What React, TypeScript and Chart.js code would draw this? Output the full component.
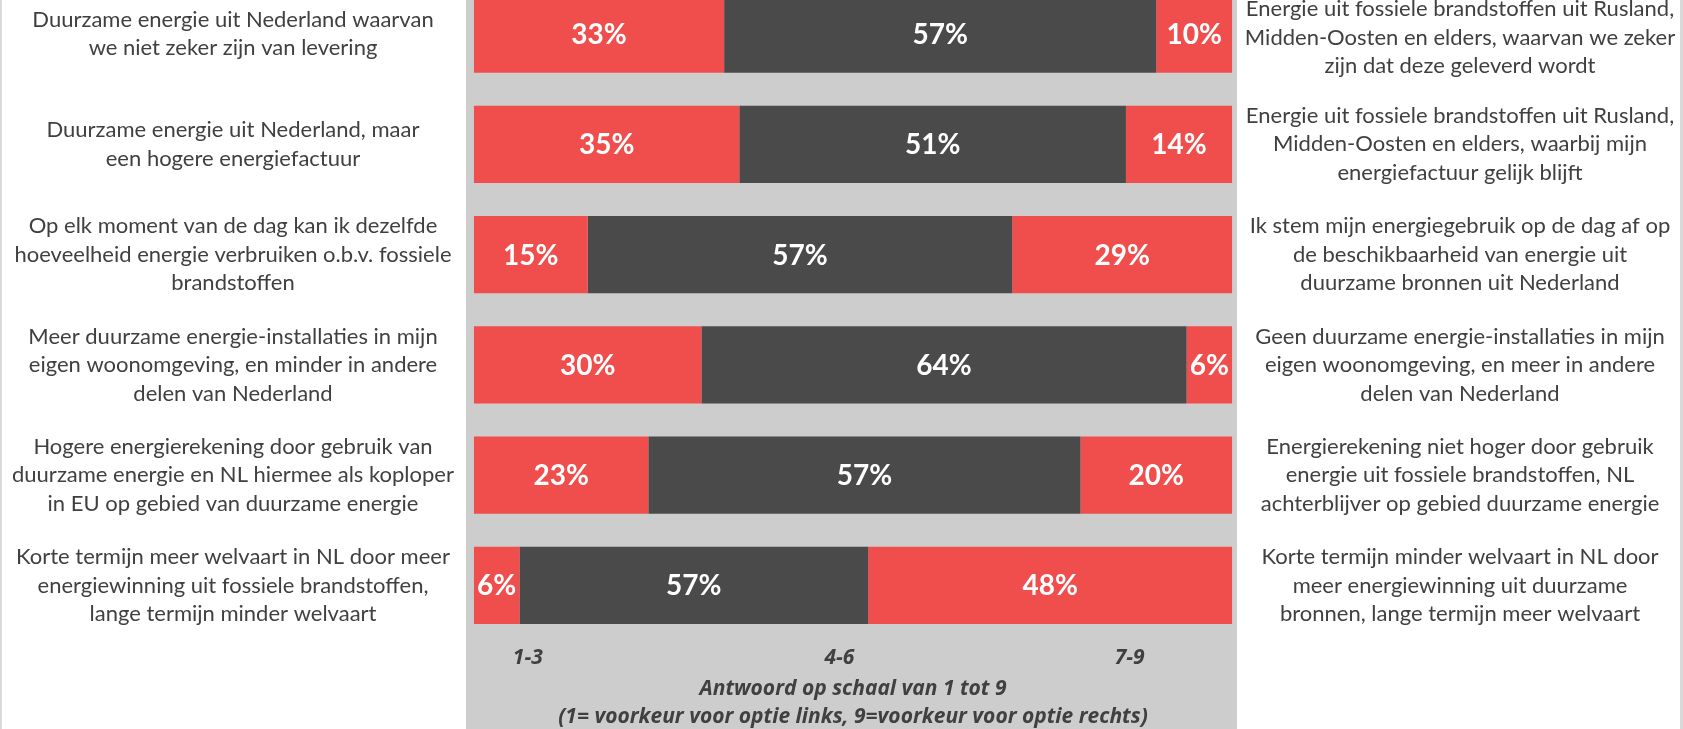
import React, { useEffect, useRef } from "react";
import { Chart, registerables } from "chart.js";

Chart.register(...registerables);

// Statements on the left (preference for score 1-3)
const leftStatements: string[][] = [
  ["Duurzame energie uit Nederland waarvan", "we niet zeker zijn van levering"],
  ["Duurzame energie uit Nederland, maar", "een hogere energiefactuur"],
  ["Op elk moment van de dag kan ik dezelfde", "hoeveelheid energie verbruiken o.b.v. fossiele", "brandstoffen"],
  ["Meer duurzame energie-installaties in mijn", "eigen woonomgeving, en minder in andere", "delen van Nederland"],
  ["Hogere energierekening door gebruik van", "duurzame energie en NL hiermee als koploper", "in EU op gebied van duurzame energie"],
  ["Korte termijn meer welvaart in NL door meer", "energiewinning uit fossiele brandstoffen,", "lange termijn minder welvaart"],
];

// Statements on the right (preference for score 7-9)
const rightStatements: string[][] = [
  ["Energie uit fossiele brandstoffen uit Rusland,", "Midden-Oosten en elders, waarvan we zeker", "zijn dat deze geleverd wordt"],
  ["Energie uit fossiele brandstoffen uit Rusland,", "Midden-Oosten en elders, waarbij mijn", "energiefactuur gelijk blijft"],
  ["Ik stem mijn energiegebruik op de dag af op", "de beschikbaarheid van energie uit", "duurzame bronnen uit Nederland"],
  ["Geen duurzame energie-installaties in mijn", "eigen woonomgeving, en meer in andere", "delen van Nederland"],
  ["Energierekening niet hoger door gebruik", "energie uit fossiele brandstoffen, NL", "achterblijver op gebied duurzame energie"],
  ["Korte termijn minder welvaart in NL door", "meer energiewinning uit duurzame", "bronnen, lange termijn meer welvaart"],
];

// Segment lengths as drawn (share of respondents)
const score13 = [33, 35, 15, 30, 23, 6];
const score46 = [57, 51, 56, 64, 57, 46];
const score79 = [10, 14, 29, 6, 20, 48];

// Printed value labels
const label13 = [33, 35, 15, 30, 23, 6];
const label46 = [57, 51, 57, 64, 57, 57];
const label79 = [10, 14, 29, 6, 20, 48];

const scaleGroups = ["1-3", "4-6", "7-9"];
const axisTitle = ["Antwoord op schaal van 1 tot 9", "(1= voorkeur voor optie links, 9=voorkeur voor optie rechts)"];

const RED = "#F04D4D";
const DARK = "#4A4A4A";
const PANEL = "#CDCDCD";
const TEXT = "#404040";
const FONT = "Lato";
const AXIS_FONT = "'Open Sans'";

const SHIFT = 21; // part of the chart above the visible window

export default function App() {
  const ref = useRef<HTMLCanvasElement | null>(null);

  useEffect(() => {
    document.body.style.margin = "0";
    document.body.style.overflow = "hidden";
    const canvas = ref.current;
    if (!canvas) return;

    const groupAt = [7.1, 48.2, 86.5];

    const decor = {
      id: "decor",
      beforeDraw(chart: any) {
        const { ctx, width, height, chartArea } = chart;
        ctx.save();
        ctx.fillStyle = "#FFFFFF";
        ctx.fillRect(0, 0, width, height);
        ctx.fillStyle = "#D9D9D9";
        ctx.fillRect(0, 0, 2, height);
        ctx.fillRect(width - 3, 0, 3, height);
        ctx.fillStyle = PANEL;
        ctx.fillRect(chartArea.left, 0, chartArea.right - chartArea.left, height);
        ctx.restore();
      },
      afterDatasetsDraw(chart: any) {
        const { ctx, width, height, chartArea, scales } = chart;
        const labelSets = [label13, label46, label79];
        ctx.save();
        // value labels
        ctx.fillStyle = "#FFFFFF";
        ctx.font = `bold 28px ${FONT}`;
        ctx.textAlign = "center";
        ctx.textBaseline = "middle";
        chart.data.datasets.forEach((_ds: any, di: number) => {
          const meta = chart.getDatasetMeta(di);
          meta.data.forEach((bar: any, i: number) => {
            const cx = (bar.x + bar.base) / 2;
            ctx.fillText(`${labelSets[di][i]}%`, cx, bar.y + 1);
          });
        });
        // side statements
        ctx.fillStyle = TEXT;
        ctx.font = `22px ${FONT}`;
        const lh = 28.5;
        const minFirst = SHIFT + 9; // keep the first line inside the visible window
        const drawBlock = (lines: string[], x: number, cy: number) => {
          let first = cy - ((lines.length - 1) / 2) * lh;
          if (first < minFirst) first = minFirst;
          lines.forEach((t, k) => ctx.fillText(t, x, first + k * lh));
        };
        const leftX = chartArea.left / 2;
        const rightX = (chartArea.right + width) / 2;
        leftStatements.forEach((lines, i) => drawBlock(lines, leftX, scales.y.getPixelForValue(i)));
        rightStatements.forEach((lines, i) => drawBlock(lines, rightX, scales.y.getPixelForValue(i)));
        // scale group labels
        ctx.font = `italic bold 21px ${AXIS_FONT}`;
        const axisTop = chartArea.bottom;
        scaleGroups.forEach((g, i) => {
          ctx.fillText(g, scales.x.getPixelForValue(groupAt[i]), axisTop + 17);
        });
        const midX = (scales.x.getPixelForValue(0) + scales.x.getPixelForValue(100)) / 2;
        axisTitle.forEach((t, k) => {
          ctx.fillText(t, midX, height - 40 + k * 28);
        });
        ctx.restore();
      },
    };

    const chart = new Chart(canvas, {
      type: "bar",
      data: {
        labels: leftStatements.map((l) => l.join(" ")),
        datasets: [
          { label: "1-3", data: score13, backgroundColor: RED, barPercentage: 0.7, categoryPercentage: 1, borderWidth: 0 },
          { label: "4-6", data: score46, backgroundColor: DARK, barPercentage: 0.7, categoryPercentage: 1, borderWidth: 0 },
          { label: "7-9", data: score79, backgroundColor: RED, barPercentage: 0.7, categoryPercentage: 1, borderWidth: 0 },
        ],
      },
      options: {
        indexAxis: "y",
        animation: false,
        responsive: false,
        devicePixelRatio: 1,
        layout: { padding: { left: 466, right: 446, top: 0, bottom: 88.4 } },
        scales: {
          x: { stacked: true, min: -1.05, max: 100.65, display: false },
          y: { stacked: true, display: false },
        },
        plugins: { legend: { display: false }, tooltip: { enabled: false } },
      },
      plugins: [decor],
    });
    return () => chart.destroy();
  }, []);

  return (
    <div style={{ width: 1683, height: 729, overflow: "hidden", position: "relative" }}>
      <canvas
        ref={ref}
        width={1683}
        height={729 + SHIFT}
        style={{ display: "block", position: "absolute", left: 0, top: -SHIFT }}
      />
    </div>
  );
}
